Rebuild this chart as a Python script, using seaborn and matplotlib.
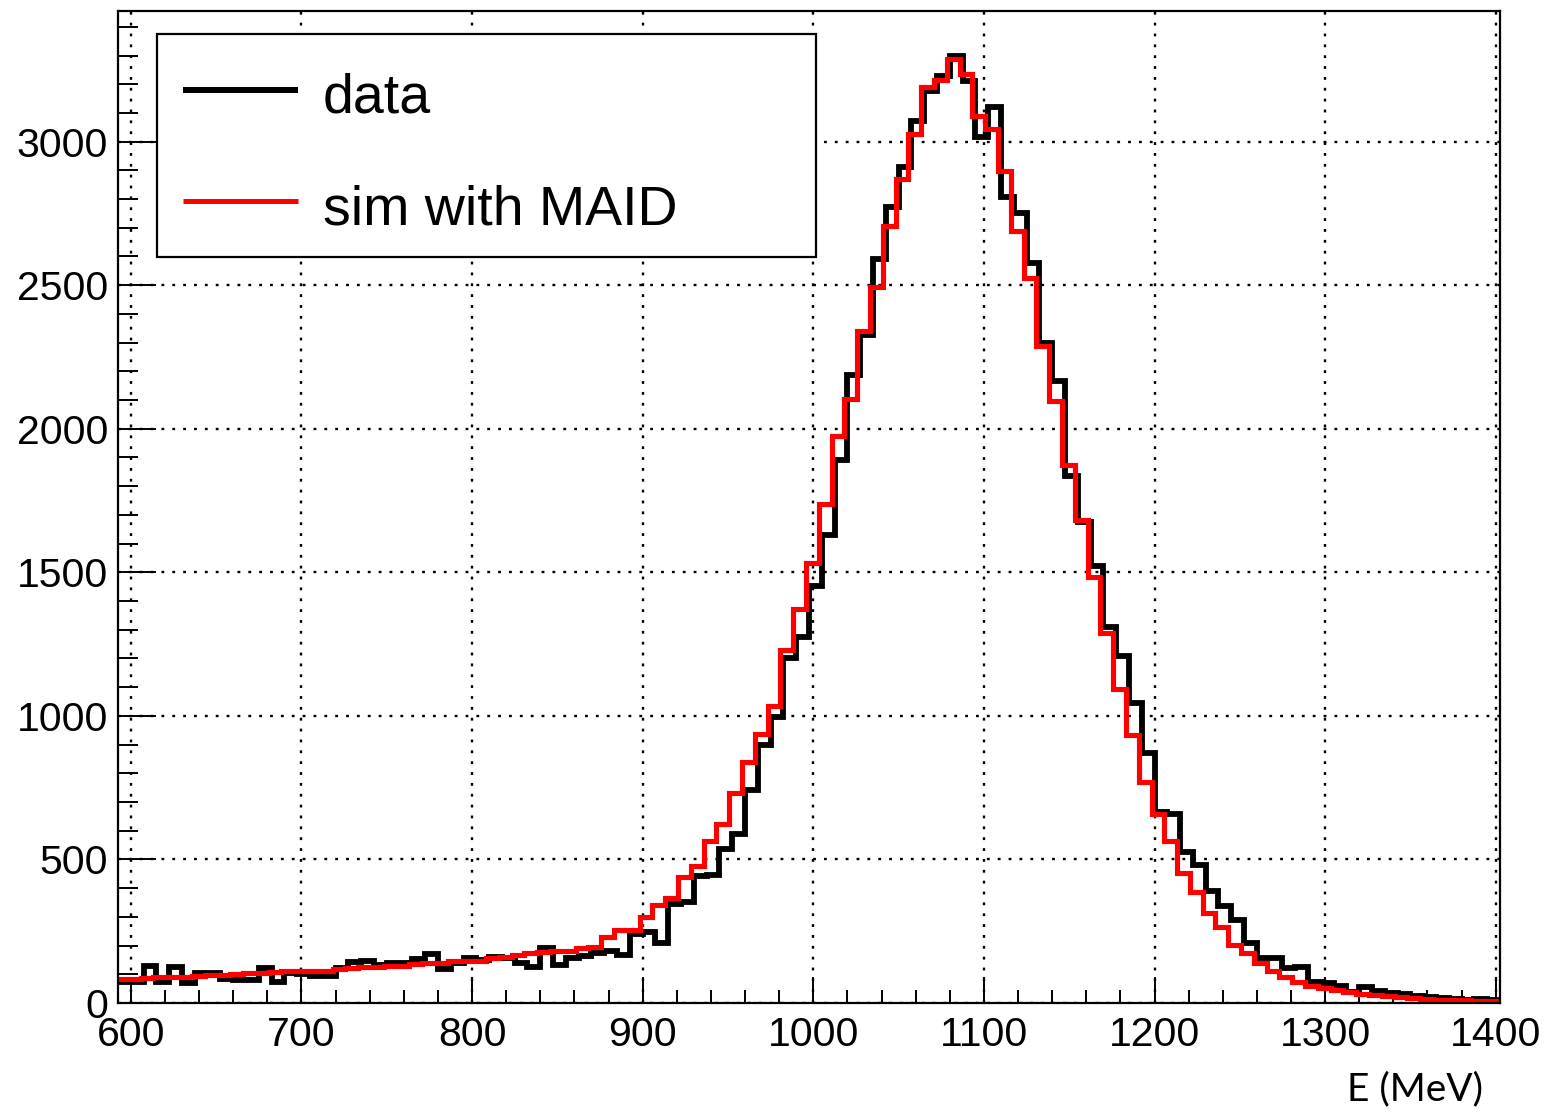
import numpy as np
import pandas as pd
import matplotlib
matplotlib.use("Agg")
import matplotlib.pyplot as plt
import seaborn as sns
from matplotlib.patches import Rectangle
from matplotlib.lines import Line2D

# ---------------- data ----------------
bin_low = 592.5      # MeV, first bin edge
bin_width = 7.5      # MeV
sim_shift = -1.75    # MeV, apparent shift of the simulated histogram

data_counts = [
    72, 72, 128, 74, 126, 68, 106, 103, 82, 80,
    80, 121, 74, 103, 100, 94, 94, 123, 144, 145,
    132, 138, 140, 152, 170, 120, 138, 158, 150, 161,
    158, 138, 126, 190, 132, 155, 165, 175, 182, 167,
    240, 248, 210, 345, 353, 442, 446, 538, 588, 742,
    898, 996, 1200, 1275, 1453, 1631, 1890, 2187, 2328, 2591,
    2771, 2910, 3073, 3177, 3229, 3297, 3212, 3015, 3119, 2806,
    2752, 2577, 2298, 2167, 1837, 1676, 1522, 1310, 1207, 1046,
    869, 666, 660, 527, 480, 390, 338, 289, 208, 155,
    155, 121, 125, 72, 70, 60, 38, 56, 42, 36,
    30, 24, 20, 17, 14, 12, 13, 10,
]

sim_counts = [
    84, 85, 88, 89, 90, 92, 94, 96, 99, 101,
    104, 106, 108, 112, 112, 110, 113, 118, 121, 124,
    126, 128, 130, 135, 140, 138, 147, 146, 146, 155,
    161, 167, 173, 178, 180, 182, 193, 195, 231, 254,
    254, 298, 341, 364, 440, 478, 565, 625, 730, 838,
    936, 1036, 1231, 1371, 1533, 1737, 1976, 2102, 2342, 2493,
    2707, 2870, 3026, 3189, 3214, 3287, 3235, 3090, 3044, 2897,
    2690, 2525, 2287, 2096, 1874, 1683, 1483, 1288, 1094, 934,
    770, 660, 565, 454, 388, 312, 263, 202, 173, 141,
    110, 89, 72, 60, 52, 45, 39, 33, 28, 24,
    20, 17, 14, 12, 10, 9, 8, 7,
]

legend_labels = ["data", "sim with MAID"]
x_label = "E (MeV)"
x_ticks = [600, 700, 800, 900, 1000, 1100, 1200, 1300, 1400]
y_ticks = [0, 500, 1000, 1500, 2000, 2500, 3000]

# ---------------- build tables ----------------
n_bins = len(data_counts)
edges = bin_low + bin_width * np.arange(n_bins + 1)
centers = 0.5 * (edges[:-1] + edges[1:])
df_data = pd.DataFrame({"E": centers, "n": data_counts})
sim_edges = edges + sim_shift
df_sim = pd.DataFrame({"E": centers + sim_shift, "n": sim_counts})

# ---------------- figure ----------------
plt.rcParams["font.family"] = ["Liberation Sans", "DejaVu Sans"]
fig = plt.figure(figsize=(15.5, 11.12), dpi=100)
ax = fig.add_axes([118 / 1550, 1 - 1003 / 1112, (1500 - 118) / 1550, (1003 - 11) / 1112])

sns.histplot(data=df_data, x="E", weights="n", bins=edges.tolist(), element="step",
             fill=False, color="black", linewidth=4.2, ax=ax,
             solid_joinstyle="miter", zorder=3)
sns.histplot(data=df_sim, x="E", weights="n", bins=sim_edges.tolist(), element="step",
             fill=False, color="#ff0000", linewidth=3.7, ax=ax,
             solid_joinstyle="miter", zorder=4)

ax.set_xlim(edges[0], edges[-1])
ax.set_ylim(0, 3455)
ax.set_xlabel("")
ax.set_ylabel("")

ax.set_xticks(x_ticks)
ax.set_xticklabels([str(t) for t in x_ticks])
ax.set_yticks(y_ticks)
ax.set_yticklabels([str(t) for t in y_ticks])
ax.xaxis.set_minor_locator(matplotlib.ticker.MultipleLocator(20))
ax.yaxis.set_minor_locator(matplotlib.ticker.MultipleLocator(100))

ax.tick_params(axis="both", which="both", direction="in", top=False, right=False,
               width=1.4, labelsize=29.5, colors="black")
ax.tick_params(axis="x", which="major", length=19, pad=9)
ax.tick_params(axis="x", which="minor", length=9.5)
ax.tick_params(axis="y", which="major", length=27, pad=7)
ax.tick_params(axis="y", which="minor", length=14.5)

for s in ax.spines.values():
    s.set_linewidth(1.6)
    s.set_color("black")
    s.set_zorder(6)

ax.grid(True, which="major", color="black", linestyle=(0, (1.2, 3.4)), linewidth=1.7)
ax.set_axisbelow(True)

# legend box (ROOT-style)
ax.add_patch(Rectangle((0.0282, 0.752), 0.5051 - 0.0282, 0.9768 - 0.752,
                       transform=ax.transAxes, facecolor="white", edgecolor="black",
                       linewidth=1.6, zorder=7))
ax.add_line(Line2D([0.047, 0.1302], [0.9204, 0.9204], transform=ax.transAxes,
                   color="black", linewidth=4.3, solid_capstyle="butt", zorder=8))
ax.add_line(Line2D([0.047, 0.1302], [0.8085, 0.8085], transform=ax.transAxes,
                   color="#ff0000", linewidth=3.6, solid_capstyle="butt", zorder=8))
ax.text(0.1483, 0.8972, legend_labels[0], transform=ax.transAxes, fontsize=40,
        ha="left", va="baseline", zorder=9)
ax.text(0.1483, 0.7843, legend_labels[1], transform=ax.transAxes, fontsize=40,
        ha="left", va="baseline", zorder=9)

fig.text(1483 / 1550, 1 - 1089 / 1112, x_label, ha="right", va="center",
         fontsize=28, family=["Lato", "DejaVu Sans"])

fig.savefig("out.png", dpi=100, facecolor="white")
